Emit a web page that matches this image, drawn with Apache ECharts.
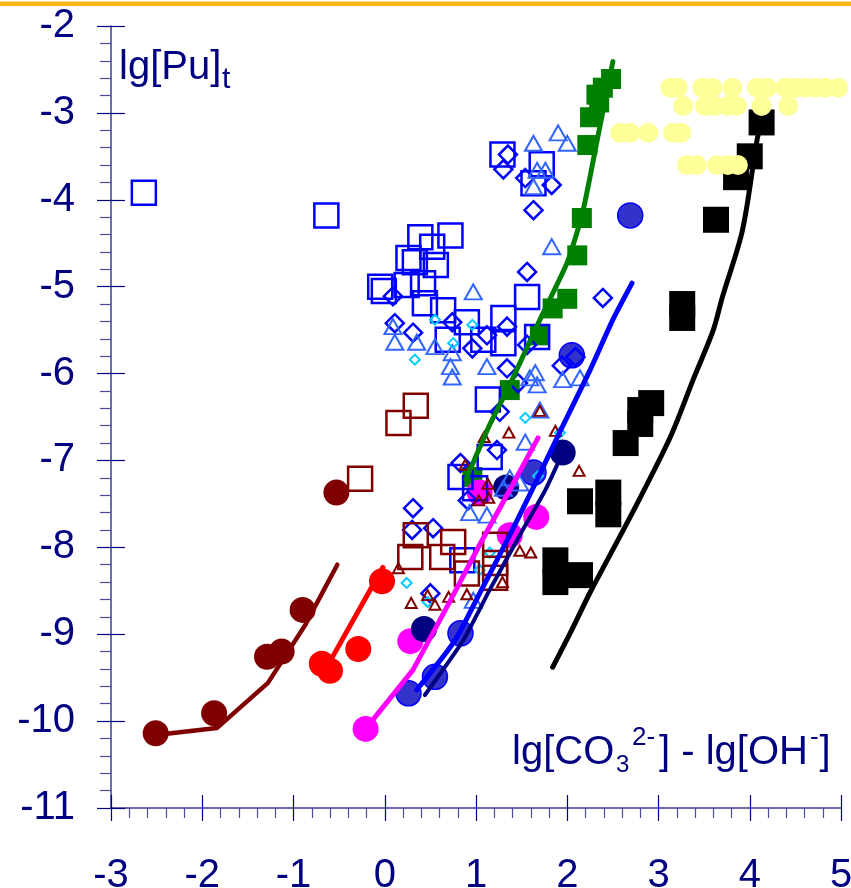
<!DOCTYPE html>
<html><head><meta charset="utf-8">
<script src="https://cdn.jsdelivr.net/npm/echarts@6/dist/echarts.min.js"></script>
<style>html,body{margin:0;padding:0;background:#fff}#c{width:851px;height:888px}</style>
</head><body><div id="c"></div>
<script>
const xTickValues = [-3,-2,-1,0,1,2,3,4,5];
const yTickValues = [-11,-10,-9,-8,-7,-6,-5,-4,-3,-2];

const blackSquares = [[4.13,-3.11],[4.00,-3.50],[3.85,-3.74],[3.63,-4.23],[3.26,-5.20],[3.26,-5.36],[2.92,-6.34],[2.80,-6.42],[2.80,-6.58],[2.64,-6.80],[2.45,-7.37],[2.45,-7.62],[2.14,-7.47],[1.87,-8.15],[1.87,-8.40],[2.14,-8.32]];
const blackLine = [[1.84,-9.38],[2.05,-8.95],[2.25,-8.52],[2.69,-7.65],[3.13,-6.73],[3.38,-6.07],[3.60,-5.50],[3.70,-5.12],[3.92,-4.35],[4.08,-3.31],[4.12,-3.14]];
const yellowCircles = [
  [3.13,-2.71],[3.21,-2.71],[3.48,-2.71],[3.59,-2.71],[3.81,-2.71],[4.08,-2.71],[4.19,-2.71],[4.39,-2.71],[4.50,-2.71],[4.61,-2.71],[4.72,-2.71],[4.83,-2.71],[4.97,-2.71],
  [3.27,-2.92],[3.51,-2.92],[3.62,-2.92],[3.75,-2.92],[3.86,-2.92],[4.13,-2.92],[4.42,-2.92],
  [2.58,-3.23],[2.69,-3.23],[2.89,-3.23],[3.16,-3.23],[3.25,-3.23],
  [3.31,-3.60],[3.42,-3.60],[3.64,-3.60],[3.76,-3.60],[3.87,-3.60]
];
const greenSquares = [[0.96,-7.19],[1.37,-6.19],[1.70,-5.56],[1.84,-5.25],[2.00,-5.14],[2.11,-4.64],[2.16,-4.21],[2.22,-3.37],[2.25,-3.05],[2.32,-2.79],[2.35,-2.88],[2.39,-2.71],[2.48,-2.61]];
const greenLine = [[0.89,-7.22],[1.15,-6.59],[1.37,-6.13],[1.70,-5.38],[2.00,-4.72],[2.17,-4.14],[2.34,-3.25],[2.50,-2.41]];
const darkRedCircles = [[-2.51,-10.14],[-1.87,-9.91],[-1.29,-9.26],[-1.13,-9.20],[-0.90,-8.72],[-0.53,-7.37]];
const darkRedLine = [[-2.51,-10.16],[-1.84,-10.08],[-1.28,-9.56],[-0.87,-8.89],[-0.52,-8.20]];
const redCircles = [[-0.03,-8.39],[-0.29,-9.17],[-0.69,-9.34],[-0.60,-9.42]];
const redLine = [[-0.62,-9.35],[-0.02,-8.23]];
const magentaCircles = [[-0.21,-10.09],[0.28,-9.08],[1.37,-7.86],[1.66,-7.65],[1.04,-7.37]];
const magentaLine = [[-0.21,-10.09],[0.31,-9.41],[0.72,-8.61],[1.04,-7.97],[1.37,-7.34],[1.68,-6.74]];
const navyCircles = [[1.95,-6.91],[1.33,-7.31],[0.43,-8.94]];
const navyLine = [[0.44,-9.70],[0.86,-9.07],[1.15,-8.49],[1.48,-7.86],[1.76,-7.34],[1.95,-6.91]];
const blueCircles = [[2.69,-4.18],[2.05,-5.79],[1.63,-7.14],[0.83,-8.99],[0.55,-9.49],[0.26,-9.68]];
const blueLine = [[0.35,-9.64],[0.77,-9.07],[1.04,-8.53],[1.37,-7.86],[1.67,-7.22],[1.92,-6.67],[2.25,-5.96],[2.50,-5.38],[2.71,-4.96]];
const blueSquares = [[-2.64,-3.92],[-0.64,-4.18],[1.29,-3.48],[1.72,-3.59],[1.63,-3.81],[0.39,-4.43],[0.72,-4.41],[0.52,-4.54],[0.26,-4.67],[0.33,-4.72],[0.56,-4.75],[-0.05,-5.00],[-0.01,-5.05],[0.24,-4.98],[0.42,-4.96],[0.44,-5.19],[0.64,-5.27],[0.90,-5.41],[1.30,-5.36],[1.56,-5.12],[1.67,-5.58],[0.69,-5.61],[1.08,-5.61],[1.30,-5.65],[1.13,-6.30],[1.15,-6.96],[0.83,-7.19],[0.99,-7.32],[0.85,-8.15]];
const blueDiamonds = [[1.35,-3.48],[1.30,-3.65],[1.54,-3.75],[1.83,-3.83],[1.63,-4.12],[1.56,-4.83],[2.39,-5.13],[0.09,-5.11],[0.11,-5.42],[0.31,-5.53],[0.74,-5.41],[1.12,-5.56],[0.96,-5.71],[1.34,-5.46],[1.56,-5.67],[1.34,-5.94],[1.46,-6.11],[1.26,-6.44],[1.23,-6.88],[0.83,-7.03],[0.91,-7.46],[0.31,-7.55],[0.30,-7.80],[0.53,-7.78],[0.50,-8.53],[1.94,-5.91],[2.09,-5.81]];
const lightBlueTriangles = [[1.90,-3.23],[1.63,-3.35],[2.00,-3.35],[1.67,-3.66],[1.76,-3.66],[1.63,-3.85],[1.83,-4.54],[0.97,-5.06],[0.09,-5.46],[0.11,-5.64],[0.35,-5.64],[0.55,-5.69],[0.74,-5.76],[0.72,-5.92],[0.74,-6.04],[1.12,-5.92],[1.59,-6.05],[1.65,-5.99],[1.67,-6.13],[1.95,-6.07],[2.14,-6.05],[1.54,-6.79],[1.70,-6.42],[1.30,-7.32],[1.37,-7.20],[1.48,-7.26],[0.93,-7.60],[1.12,-7.63],[0.97,-8.61]];
const cyanDiamonds = [[0.33,-5.84],[0.75,-5.65],[1.54,-6.51],[1.68,-7.18],[1.92,-6.68],[1.15,-8.06],[0.24,-8.41],[0.96,-5.44],[0.55,-5.38],[0.47,-8.63],[1.04,-8.26]];
const darkRedSquares = [[-0.27,-7.21],[0.15,-6.57],[0.34,-6.37],[0.34,-7.86],[0.28,-8.11],[0.63,-8.11],[0.75,-7.94],[0.90,-8.30],[1.21,-7.97],[1.21,-8.18],[1.21,-8.35]];
const darkRedTriangles = [[1.70,-6.43],[1.36,-6.68],[1.09,-6.73],[0.88,-7.05],[1.87,-6.66],[2.13,-7.12],[1.13,-7.27],[1.03,-7.46],[1.14,-7.43],[1.48,-8.04],[1.60,-8.06],[0.15,-8.24],[0.29,-8.64],[0.47,-8.55],[0.55,-8.66],[0.70,-8.57],[0.90,-8.54],[1.29,-8.40]];

const FONT = '"Liberation Sans", Arial, sans-serif';
const NAVY = '#000080';

function lineS(data, color, width, smooth) {
  return {type:'line', data, symbol:'none', silent:true, clip:false, smooth: smooth || false,
    lineStyle:{color, width, cap:'round', join:'round'}};
}
function filled(data, symbol, size, color, border, bw) {
  return {type:'scatter', data, symbol, symbolSize:size, silent:true,
    itemStyle:{color, borderColor: border || color, borderWidth: bw || 0, opacity:1}};
}
function open(data, symbol, size, color, bw) {
  return {type:'scatter', data, symbol, symbolSize:size, silent:true,
    itemStyle:{color:'rgba(0,0,0,0)', borderColor:color, borderWidth:bw, opacity:1}};
}

const xMin = xTickValues[0], xMax = xTickValues[xTickValues.length-1];
const yMin = yTickValues[0], yMax = yTickValues[yTickValues.length-1];

const baseX = {type:'value', min:xMin, max:xMax, interval:1, position:'bottom', splitLine:{show:false}};
const baseY = {type:'value', min:yMin, max:yMax, interval:1, position:'left', splitLine:{show:false}};

const chart = echarts.init(document.getElementById('c'), null, {renderer:'canvas'});
chart.setOption({
  animation:false,
  backgroundColor:'#ffffff',
  grid:{left:111, right:10, top:26, bottom:80, containLabel:false, outerBoundsMode:'none'},
  xAxis:[
    Object.assign({}, baseX, {
      axisLine:{show:true, onZero:false, lineStyle:{color:'#3c3c96', width:1.5}},
      axisTick:{show:true, inside:false, length:13, lineStyle:{color:NAVY, width:1.2}},
      minorTick:{show:true, splitNumber:5, length:10, lineStyle:{color:'#4b4b9b', width:1.2}},
      axisLabel:{show:true, margin:48, color:NAVY, fontSize:40, fontFamily:FONT}
    }),
    Object.assign({}, baseX, {
      axisLine:{show:false, onZero:false},
      axisTick:{show:true, inside:true, length:13, lineStyle:{color:NAVY, width:1.2}},
      minorTick:{show:false},
      axisLabel:{show:false}
    })
  ],
  yAxis:[
    Object.assign({}, baseY, {
      axisLine:{show:true, onZero:false, lineStyle:{color:'#3c3c96', width:1.5}},
      axisTick:{show:true, inside:false, length:14, lineStyle:{color:NAVY, width:1.2}},
      minorTick:{show:true, splitNumber:5, length:11, lineStyle:{color:'#4b4b9b', width:1.2}},
      axisLabel:{show:true, margin:36, color:NAVY, fontSize:40, fontFamily:FONT, padding:[8,0,0,0]}
    }),
    Object.assign({}, baseY, {
      axisLine:{show:false, onZero:false},
      axisTick:{show:true, inside:true, length:14, lineStyle:{color:NAVY, width:1.2}},
      minorTick:{show:false},
      axisLabel:{show:false}
    })
  ],
  graphic:[
    {type:'rect', shape:{x:0, y:1.5, width:851, height:4.5}, style:{fill:'#FDB515'}, silent:true},
    {type:'text', x:119, y:67.8, style:{text:'lg[Pu]', font:'40px ' + FONT, fill:NAVY, align:'left', verticalAlign:'middle'}},
    {type:'text', x:222, y:79.6, style:{text:'t', font:'30px ' + FONT, fill:NAVY, align:'left', verticalAlign:'middle'}},
    {type:'text', x:512, y:752.8, style:{text:'lg[CO', font:'40px ' + FONT, fill:NAVY, align:'left', verticalAlign:'middle'}},
    {type:'text', x:616, y:765, style:{text:'3', font:'24px ' + FONT, fill:NAVY, align:'left', verticalAlign:'middle'}},
    {type:'text', x:632, y:737.7, style:{text:'2-', font:'26px ' + FONT, fill:NAVY, align:'left', verticalAlign:'middle'}},
    {type:'text', x:659, y:752.8, style:{text:'] - lg[OH', font:'40px ' + FONT, fill:NAVY, align:'left', verticalAlign:'middle'}},
    {type:'text', x:810, y:737.7, style:{text:'-', font:'26px ' + FONT, fill:NAVY, align:'left', verticalAlign:'middle'}},
    {type:'text', x:819.5, y:752.8, style:{text:']', font:'40px ' + FONT, fill:NAVY, align:'left', verticalAlign:'middle'}}
  ],
  series:[
    filled(blackSquares, 'rect', 26, '#000000'),
    lineS(blackLine, '#000000', 5, 0.3),
    filled(yellowCircles, 'circle', 20, '#FFFF99'),
    lineS(greenLine, '#008000', 5, 0.2),
    filled(greenSquares, 'rect', 20, '#008000'),
    lineS(darkRedLine, '#800000', 4.5),
    filled(darkRedCircles, 'circle', 26, '#800000'),
    lineS(redLine, '#FF0000', 5),
    filled(redCircles, 'circle', 26, '#FF0000'),
    lineS(magentaLine, '#FF00FF', 5),
    filled(magentaCircles, 'circle', 26, '#FF00FF'),
    lineS(navyLine, '#000080', 4, 0.2),
    lineS(blueLine, '#0000FF', 5, 0.2),
    filled(navyCircles, 'circle', 26, '#000080'),
    filled(blueCircles, 'circle', 25, '#3333CC', '#0000FF', 1.5),
    open(blueSquares, 'rect', 24, '#0000FF', 2.5),
    open(blueDiamonds, 'diamond', 18, '#0000FF', 2.5),
    open(lightBlueTriangles, 'triangle', [17,15], '#3366FF', 2),
    open(cyanDiamonds, 'diamond', 10, '#00CCFF', 2),
    open(darkRedSquares, 'rect', 24, '#800000', 2.5),
    open(darkRedTriangles, 'triangle', [11,10], '#800000', 2)
  ]
});
</script>
</body></html>
